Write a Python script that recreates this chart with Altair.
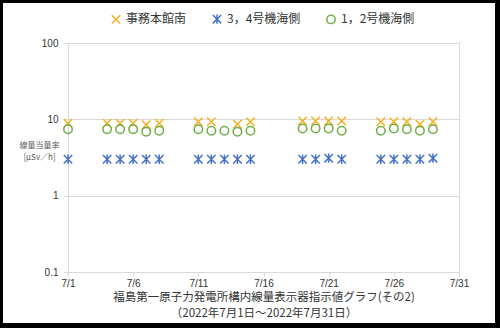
import altair as alt
import pandas as pd

days = [1, 4, 5, 6, 7, 8, 11, 12, 13, 14, 15, 19, 20, 21, 22, 25, 26, 27, 28, 29]
honkan = [8.9, 8.9, 8.9, 8.9, 8.5, 8.9, 9.3, 9.3, None, 8.6, 9.3, 9.5, 9.5, 9.5, 9.5, 9.3, 9.3, 9.3, 8.6, 9.3]
unit34 = [3.0, 3.0, 3.0, 3.0, 3.0, 3.0, 3.0, 3.0, 3.0, 3.0, 3.0, 3.0, 3.0, 3.1, 3.0, 3.0, 3.0, 3.0, 3.0, 3.1]
unit12 = [7.4, 7.4, 7.4, 7.4, 6.9, 7.1, 7.4, 7.1, 7.1, 6.9, 7.1, 7.6, 7.6, 7.6, 7.1, 7.1, 7.6, 7.4, 7.1, 7.4]

names = ["事務本館南", "3，4号機海側", "1，2号機海側"]
colors = ["#F4B021", "#4472C4", "#70AD47"]
shapes = ["M-1,-1L1,1M-1,1L1,-1", "M-1,-1L1,1M-1,1L1,-1M0,-1.1L0,1.1", "circle"]
x_ticks = [1, 6, 11, 16, 21, 26, 31]
y_ticks = [0.1, 1, 10, 100]
x_title = ["福島第一原子力発電所構内線量表示器指示値グラフ(その2)", "（2022年7月1日～2022年7月31日）"]
y_title = ["線量当量率", "[μSv／h]"]

rows = []
for name, series in zip(names, [honkan, unit34, unit12]):
    for d, v in zip(days, series):
        if v is not None:
            rows.append({"day": d, "value": v, "series": name})
df = pd.DataFrame(rows)

points = alt.Chart(df).mark_point(filled=False, strokeWidth=1.5, size=72, opacity=1).encode(
    x=alt.X("day:Q",
            scale=alt.Scale(domain=[1, 31], nice=False, zero=False),
            axis=alt.Axis(values=x_ticks, labelExpr="'7/' + datum.value", title=x_title,
                          grid=False, domainColor="#D9D9D9", tickColor="#D9D9D9", tickSize=4,
                          labelPadding=2, labelFlush=False, labelFont="Liberation Sans",
                          labelFontSize=10, labelColor="#333333",
                          titleFont="Noto Sans CJK JP", titleFontSize=11.5,
                          titleFontWeight="normal", titleColor="#333333", titleLineHeight=16,
                          titleBaseline="top", titleY=19, titleX=195.5, titleAlign="center")),
    y=alt.Y("value:Q",
            scale=alt.Scale(type="log", domain=[0.1, 100]),
            axis=alt.Axis(values=y_ticks, format="~g", title=y_title, grid=True,
                          gridColor="#D9D9D9", domainColor="#D9D9D9", tickColor="#D9D9D9",
                          tickSize=5, labelPadding=5, labelFont="Liberation Sans",
                          labelFontSize=10, labelColor="#333333",
                          titleFont="Noto Sans CJK JP", titleFontSize=8, titleFontWeight="normal",
                          titleColor="#595959", titleAngle=0, titleAlign="center",
                          titleBaseline="top", titleX=-29, titleY=98, titleLineHeight=12)),
    color=alt.Color("series:N", scale=alt.Scale(domain=names, range=colors), title=None),
    shape=alt.Shape("series:N", scale=alt.Scale(domain=names, range=shapes), title=None),
)

frame = alt.Chart(alt.Data(values=[{"a": 1}])).mark_rect(
    stroke="black", strokeWidth=6, fillOpacity=0
).encode(
    x=alt.value(-68), x2=alt.value(430), y=alt.value(-43), y2=alt.value(283)
)

chart = alt.layer(points, frame).properties(
    width=391, height=229,
    autosize=alt.AutoSizeParams(type="none"),
    padding={"left": 68, "top": 43, "right": 41, "bottom": 56},
    background="white",
).configure_view(stroke="#D9D9D9").configure_legend(
    orient="none", legendX=42, legendY=-30, direction="horizontal",
    labelFont="Noto Sans CJK JP", labelFontSize=12, labelColor="#333333",
    symbolSize=70, symbolStrokeWidth=1.5, columnPadding=22, labelOffset=4,
)

chart.save("out.html", embed_options={"renderer": "svg", "actions": False})
